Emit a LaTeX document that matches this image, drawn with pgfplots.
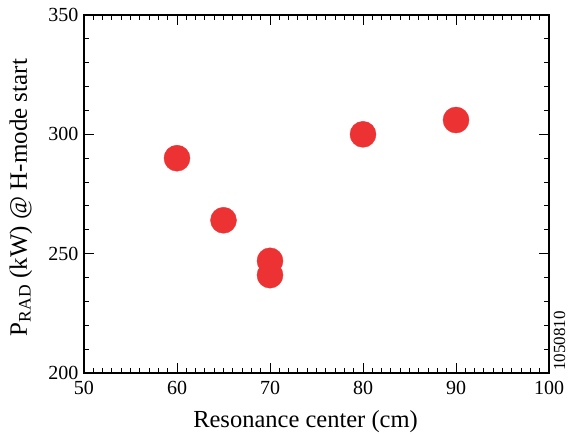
\documentclass[border=0pt]{standalone}
\usepackage{fontspec}
\setmainfont{Liberation Serif}
\usepackage{pgfplots}
\pgfplotsset{compat=1.18}
\definecolor{dotred}{HTML}{EC3232}
\begin{document}
\begin{tikzpicture}
\begin{axis}[
    width=465pt, height=358pt,
    scale only axis,
    xmin=50, xmax=100, ymin=200, ymax=350,
    xtick={50,60,...,100}, ytick={200,250,...,350},
    minor x tick num=9, minor y tick num=4,
    tick align=inside,
    major tick length=10pt, minor tick length=5.5pt,
    every tick/.style={black, line width=1pt},
    axis line style={line width=1.3pt},
    /pgf/number format/assume math mode=true,
    xticklabel={\rmfamily\pgfmathprintnumber{\tick}},
    yticklabel={\rmfamily\pgfmathprintnumber{\tick}},
    tick label style={font=\fontsize{20}{22}\selectfont},
    yticklabel style={xshift=-2pt},
    xticklabel style={yshift=-5pt},
    xlabel={Resonance center (cm)},
    ylabel={P\textsubscript{RAD} (kW) @ H-mode start},
    xlabel style={font=\fontsize{24.5}{27}\selectfont,
        at={([xshift=-11pt,yshift=-54pt]rel axis cs:0.5,0)}, anchor=base},
    ylabel style={font=\fontsize{25}{27}\selectfont,
        at={([xshift=-57pt,yshift=-3.5pt]rel axis cs:0,0.5)}, anchor=base},
    clip=false,
]
\addplot[only marks, mark=*, mark size=13pt, dotred, mark options={draw=none, fill=dotred}]
coordinates {
    (60,290) (65,264) (70,247) (70,241) (80,300) (90,306)
};
\node[rotate=90, anchor=base west, inner sep=0pt, font=\fontsize{17}{18}\selectfont]
    at ([xshift=16pt,yshift=2pt]rel axis cs:1,0) {1050810};
\coordinate (sw) at (rel axis cs:0,0);
\coordinate (ne) at (rel axis cs:1,1);
\end{axis}
\pgfresetboundingbox
\path ([shift={(-84pt,-60pt)}]sw) rectangle ([shift={(19pt,15pt)}]ne);
\end{tikzpicture}
\end{document}
